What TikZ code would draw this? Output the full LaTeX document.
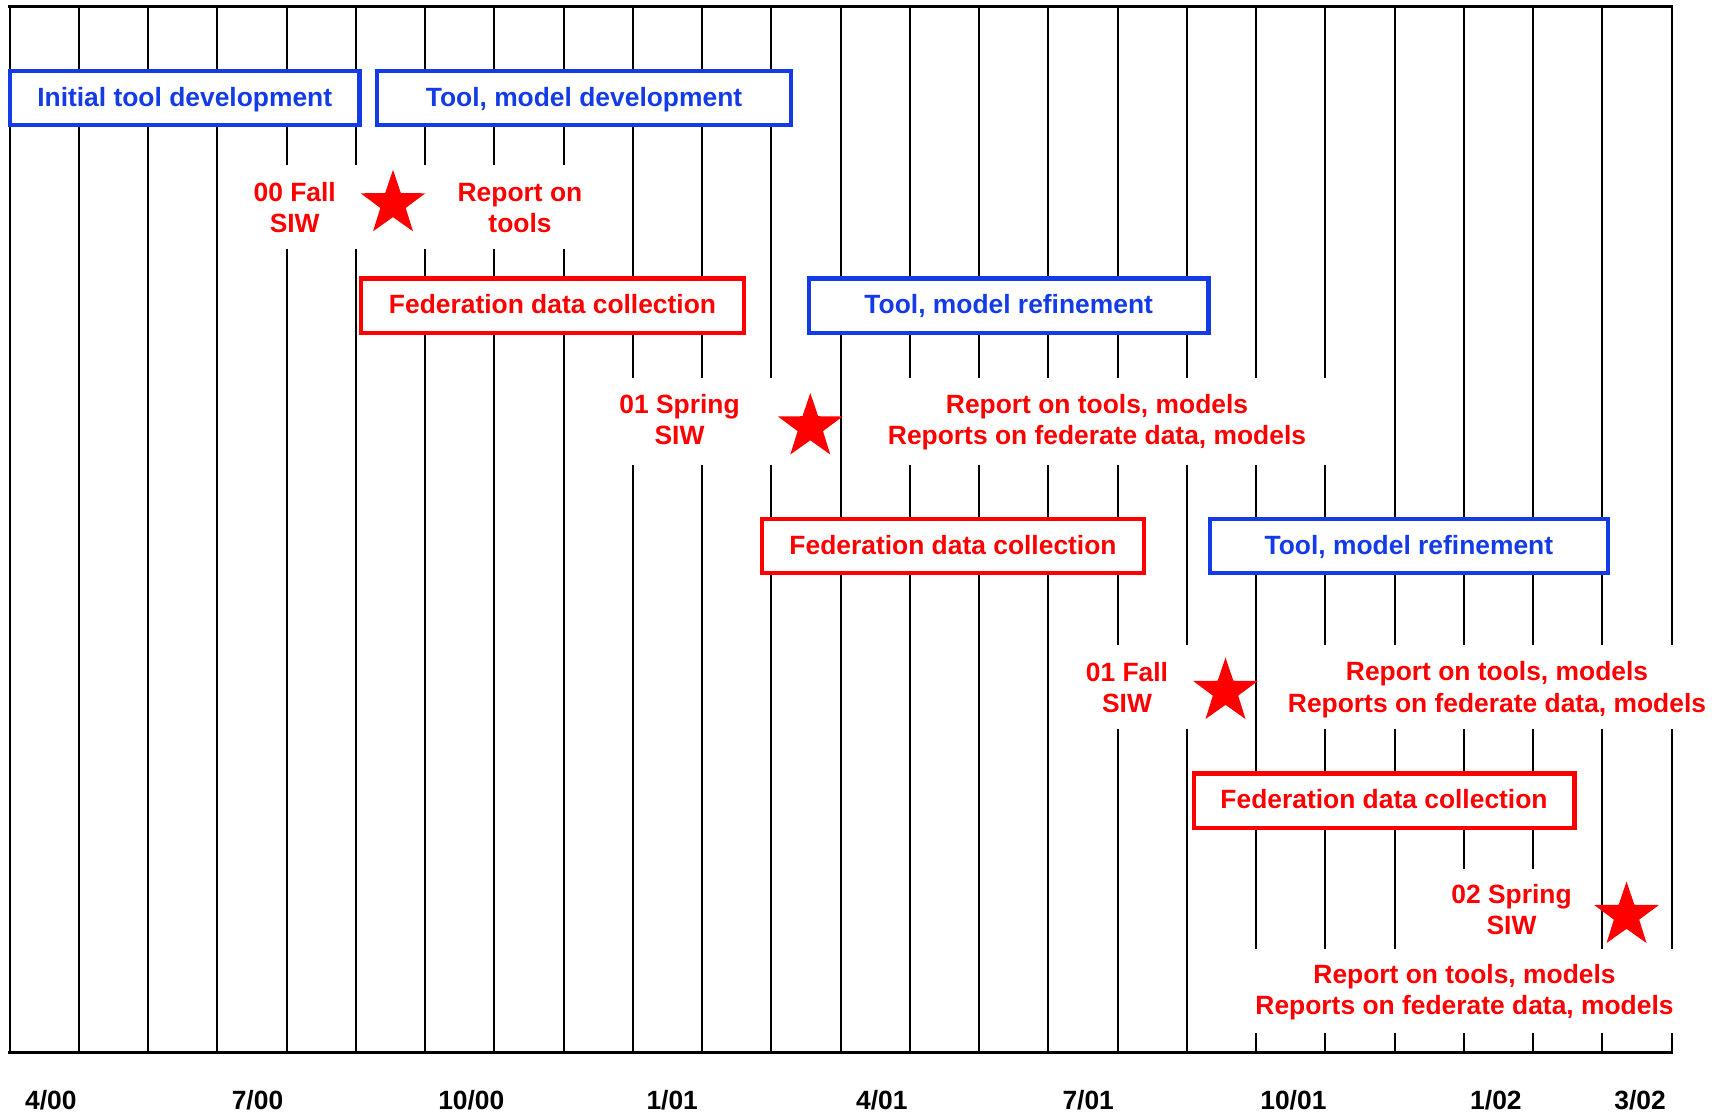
\documentclass[tikz,border=0pt]{standalone}
\usepackage{fontspec}
\setmainfont{Liberation Sans}
\usetikzlibrary{shapes.geometric}
\definecolor{tlblue}{RGB}{20,60,230}
\definecolor{tlred}{RGB}{255,0,0}
% two centred lines whose baseline is the first line's baseline
\newcommand\twolines[2]{\begin{tabular}[t]{@{}c@{}}#1\\#2\end{tabular}}
\begin{document}
\begin{tikzpicture}[x=0.5pt, y=-0.5pt,
  every node/.style={font=\fontsize{13.2}{15.75}\selectfont\bfseries, inner sep=0pt},
  grid/.style={line width=1pt, black},
  frame/.style={line width=1.3pt, black, line cap=rect},
  clearing/.style={fill=white},
  phase/.style={draw, fill=white, line width=2.2pt, minimum height=27.2pt,
    text height=9.45pt, text depth=1pt},
  bluephase/.style={phase, draw=tlblue, text=tlblue},
  redphase/.style={phase, draw=tlred, text=tlred},
  milestone/.style={star, star points=5, star point ratio=2.55, fill=tlred,
    draw=none, minimum size=34pt, inner sep=0pt},
  note/.style={text=tlred, anchor=base},
  month/.style={text=black, anchor=base},
]
% page
\fill[white] (0,0) rectangle (1722,1115);
\useasboundingbox (0,0) rectangle (1722,1115);

% monthly grid
\foreach \k in {0,...,24} {
  \coordinate (t\k) at ({9.5+69.25*\k}, 6.7);
  \coordinate (b\k) at ({9.5+69.25*\k}, 1052.5);
  \draw[grid] (t\k) -- (b\k);
}
\draw[frame] (t0) -- (t24);
\draw[frame] (b0) -- (b24);

% clear space behind the milestone notes
\fill[clearing] (235,165) rectangle (598,249.3);
\fill[clearing] (598,378.3) rectangle (820,465);
\fill[clearing] (860,378.3) rectangle (1360,465);
\fill[clearing] (1075,645) rectangle (1235,729.3);
\fill[clearing] (1285,645) rectangle (1722,729.3);
\fill[clearing] (1420,869.3) rectangle (1575,1032.7);
\fill[clearing] (1225,949.3) rectangle (1722,1032.7);

% activity bars
\node[bluephase, minimum width=174.7pt] (initdev) at (184.7,98) {Initial tool development};
\node[bluephase, minimum width=206.8pt] (tooldev) at (584,98) {Tool, model development};
\node[redphase, minimum width=191.7pt] (fed1) at (552.5,305.5) {Federation data collection};
\node[bluephase, minimum width=199.8pt] (refine1) at (1008.7,305.5) {Tool, model refinement};
\node[redphase, minimum width=190.9pt] (fed2) at (953,545.9) {Federation data collection};
\node[bluephase, minimum width=198.9pt] (refine2) at (1408.9,545.9) {Tool, model refinement};
\node[redphase, minimum width=190.3pt] (fed3) at (1384,800.5) {Federation data collection};

% milestones
\node[note] (siw00) at (294.7,201) {\twolines{00 Fall}{SIW}};
\node[milestone] (star00) at (393,203.8) {};
\node[note] (rep00) at (520,201) {\twolines{Report on}{tools}};

\node[note] (siw01s) at (679.5,413.3) {\twolines{01 Spring}{SIW}};
\node[milestone] (star01s) at (810.3,427) {};
\node[note] (rep01s) at (1097,413.3) {\twolines{Report on tools, models}{Reports on federate data, models}};

\node[note] (siw01f) at (1127,681) {\twolines{01 Fall}{SIW}};
\node[milestone] (star01f) at (1225.5,691.5) {};
\node[note] (rep01f) at (1497,680.7) {\twolines{Report on tools, models}{Reports on federate data, models}};

\node[note] (siw02s) at (1511.5,903.3) {\twolines{02 Spring}{SIW}};
\node[milestone] (star02s) at (1626.5,915.5) {};
\node[note] (rep02s) at (1464.5,983.3) {\twolines{Report on tools, models}{Reports on federate data, models}};

% month labels
\node[month] (m1) at (50.8,1109) {4/00};
\node[month] (m2) at (257.5,1109) {7/00};
\node[month] (m3) at (471.3,1109) {10/00};
\node[month] (m4) at (672.2,1109) {1/01};
\node[month] (m5) at (881.8,1109) {4/01};
\node[month] (m6) at (1088.2,1109) {7/01};
\node[month] (m7) at (1293.4,1109) {10/01};
\node[month] (m8) at (1495.9,1109) {1/02};
\node[month] (m9) at (1640,1109) {3/02};
\end{tikzpicture}
\end{document}
